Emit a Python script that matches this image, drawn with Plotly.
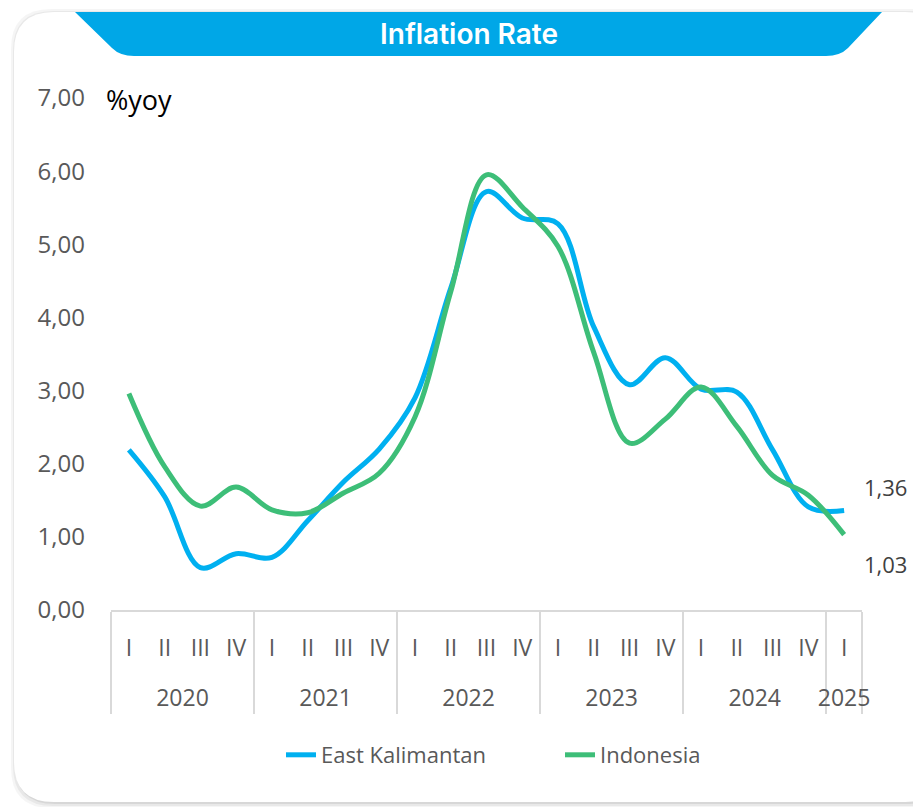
import plotly.graph_objects as go

# quarterly yoy inflation, end of quarter
years = ["2020"] * 4 + ["2021"] * 4 + ["2022"] * 4 + ["2023"] * 4 + ["2024"] * 4 + ["2025"]
quarters = ["I", "II", "III", "IV"] * 5 + ["I"]
east_kalimantan = [2.19, 1.55, 0.58, 0.77, 0.72, 1.22, 1.75, 2.20, 2.90, 4.40, 5.72,
                   5.36, 5.28, 3.87, 3.08, 3.45, 3.02, 2.98, 2.19, 1.41, 1.36]
indonesia = [2.96, 1.96, 1.42, 1.68, 1.37, 1.33, 1.60, 1.87, 2.64, 4.35, 5.95,
             5.51, 4.97, 3.52, 2.28, 2.61, 3.05, 2.51, 1.84, 1.57, 1.03]

BLUE = "#00B0F0"
GREEN = "#3DBE78"
GREY_TEXT = "#595959"
W, H = 921, 807
OFF = 8  # page body margin, figure sits 8px in from the window corner
# plot box in window pixels
X0, X1, Y0, Y1 = 111, 862, 98, 610
L, T = X0 - OFF, Y0 - OFF
R, B = W - (X1 - OFF), H - (Y1 - OFF)


def px(x):
    return (x - X0) / (X1 - X0)


def py(y):
    return (Y1 - y) / (Y1 - Y0)


# extra blank line pushes the year row down like the excel axis
q_labels = [q + "<br><span style='font-size:30px'> </span>" for q in quarters]

fig = go.Figure()
for name, vals, col in [("East Kalimantan", east_kalimantan, BLUE), ("Indonesia", indonesia, GREEN)]:
    fig.add_trace(go.Scatter(
        x=[years, q_labels], y=vals, name=name, mode="lines",
        line=dict(color=col, width=5, shape="spline", smoothing=1.0),
        hoverinfo="skip",
    ))


def rounded(x0, y0, x1, y1, r):
    return (f"M {px(x0 + r)},{py(y0)} L {px(x1 - r)},{py(y0)} Q {px(x1)},{py(y0)} {px(x1)},{py(y0 + r)} "
            f"L {px(x1)},{py(y1 - r)} Q {px(x1)},{py(y1)} {px(x1 - r)},{py(y1)} "
            f"L {px(x0 + r)},{py(y1)} Q {px(x0)},{py(y1)} {px(x0)},{py(y1 - r)} "
            f"L {px(x0)},{py(y0 + r)} Q {px(x0)},{py(y0)} {px(x0 + r)},{py(y0)} Z")


# card with soft shadow
shapes = []
for i, op in enumerate([0.04, 0.05, 0.07]):
    d = 6 - 2 * i
    shapes.append(dict(type="path", xref="paper", yref="paper", layer="below",
                       path=rounded(14 - d + 3, 12 - d + 3, 945 + d, 802 + d, 40),
                       fillcolor=f"rgba(0,0,0,{op})", line_width=0))
shapes.append(dict(type="path", xref="paper", yref="paper", layer="below",
                   path=rounded(14, 12, 945, 802, 40), fillcolor="white", line_width=0))

# title banner
banner = (f"M {px(75)},{py(12)} L {px(882)},{py(12)} L {px(848)},{py(48)} "
          f"Q {px(840)},{py(56)} {px(826)},{py(56)} L {px(134)},{py(56)} "
          f"Q {px(120)},{py(56)} {px(112)},{py(48)} Z")
shapes.append(dict(type="path", xref="paper", yref="paper", path=banner,
                   fillcolor="#00A7E7", line_width=0, layer="below"))

annotations = [
    dict(text="Inflation Rate", xref="paper", yref="paper", x=px(469), y=py(34),
         xanchor="center", yanchor="middle", showarrow=False,
         font=dict(family="Inter", size=28, weight=600, color="white")),
    dict(text="%yoy", xref="paper", yref="paper", x=px(104), y=py(99),
         xanchor="left", yanchor="middle", showarrow=False,
         font=dict(family="Open Sans", size=27, color="black")),
]
xl = (len(quarters) - 0.5) / len(quarters)
for vals, dy in [(east_kalimantan, 24), (indonesia, -29)]:
    annotations.append(dict(text=f"{vals[-1]:.2f}".replace(".", ","), xref="paper", yref="y",
                            x=xl, y=vals[-1], xshift=41, yshift=dy, showarrow=False,
                            xanchor="center", yanchor="middle",
                            font=dict(family="Open Sans", size=22, color="#404040")))

fig.update_layout(
    width=W, height=H,
    margin=dict(l=L, r=R, t=T, b=B, autoexpand=False),
    paper_bgcolor="white", plot_bgcolor="rgba(0,0,0,0)",
    separators=",.",
    shapes=shapes, annotations=annotations,
    font=dict(family="Open Sans", size=22, color=GREY_TEXT),
    showlegend=True,
    legend=dict(orientation="h", x=px(281), xanchor="left", y=py(755), yanchor="middle",
                font=dict(family="Open Sans", size=22, color=GREY_TEXT),
                bgcolor="rgba(0,0,0,0)", entrywidth=234, entrywidthmode="pixels"),
    xaxis=dict(type="multicategory", range=[-0.5, len(quarters) - 0.5],
               showline=True, linecolor="#D9D9D9", linewidth=2,
               showgrid=False, ticks="", showdividers=True, dividercolor="#D9D9D9",
               dividerwidth=2, ticklabelstandoff=16,
               tickfont=dict(size=23, color=GREY_TEXT)),
    yaxis=dict(range=[0, 7], dtick=1, tickformat=".2f", showgrid=False, zeroline=False,
               showline=False, ticks="", ticklabelstandoff=25,
               tickfont=dict(size=24, color=GREY_TEXT)),
)

fig.write_html("out.html")
